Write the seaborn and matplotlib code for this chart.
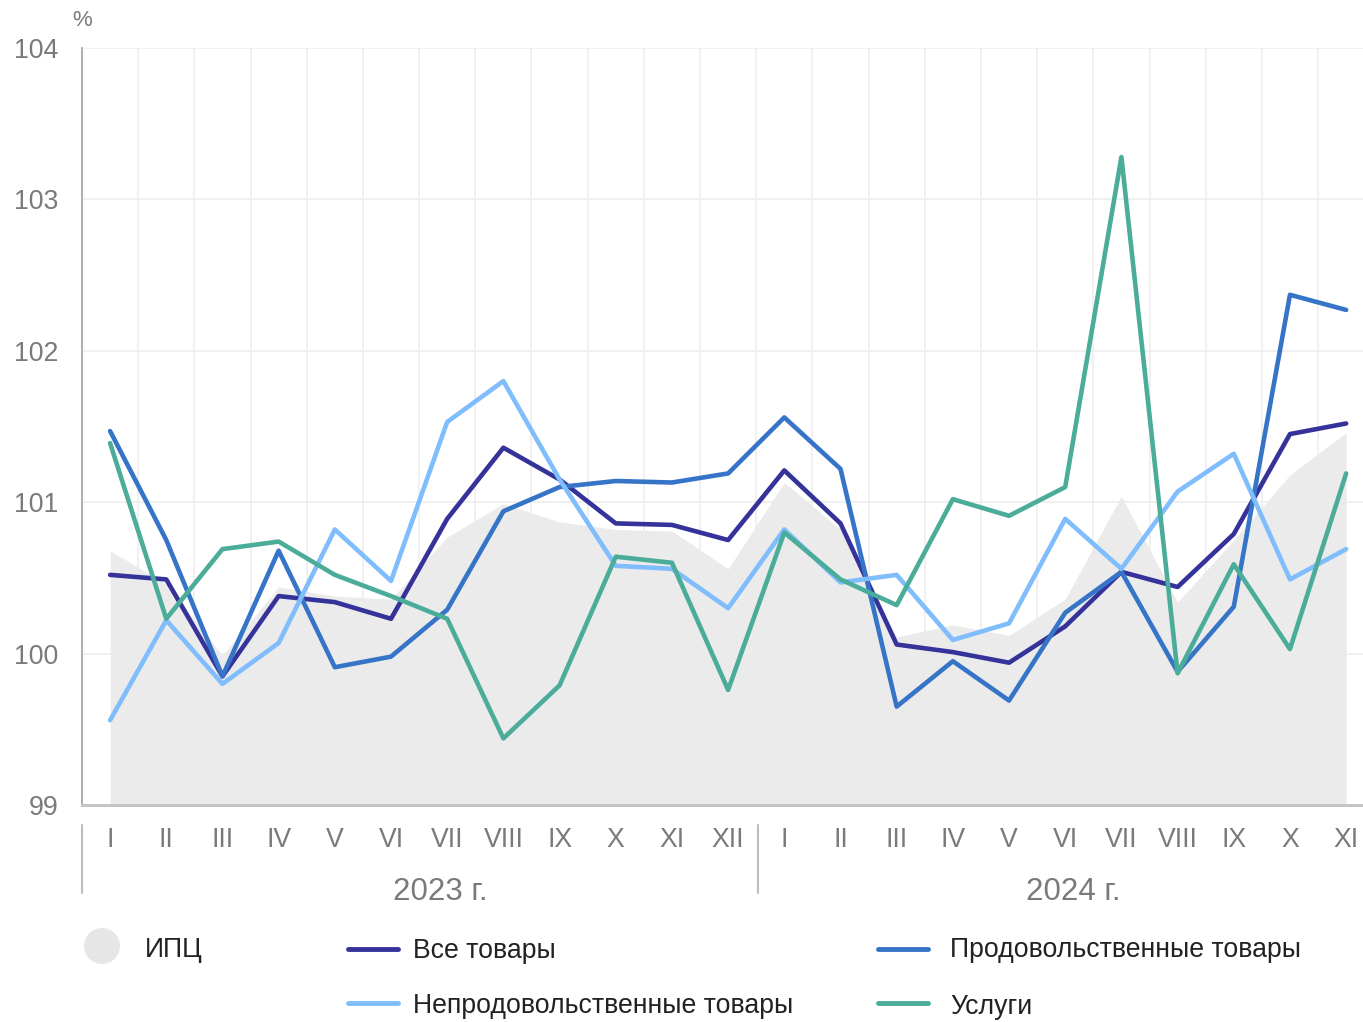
import numpy as np
import pandas as pd
import matplotlib
matplotlib.use("Agg")
import matplotlib.pyplot as plt
import matplotlib.transforms as mtransforms
from matplotlib.lines import Line2D
from matplotlib.patches import Ellipse
import seaborn as sns

# ---------------- data ----------------
months = ["I", "II", "III", "IV", "V", "VI", "VII", "VIII", "IX", "X", "XI", "XII",
          "I", "II", "III", "IV", "V", "VI", "VII", "VIII", "IX", "X", "XI"]
years = ["2023 г.", "2024 г."]

cpi = [100.68, 100.46, 99.99, 100.44, 100.38, 100.36, 100.77, 100.99, 100.87, 100.82, 100.81, 100.56,
       101.13, 100.82, 100.11, 100.19, 100.12, 100.36, 101.04, 100.34, 100.75, 101.18, 101.46]
all_goods = [100.52, 100.49, 99.85, 100.38, 100.34, 100.23, 100.89, 101.36, 101.15, 100.86, 100.85, 100.75,
             101.21, 100.86, 100.06, 100.01, 99.94, 100.18, 100.54, 100.44, 100.79, 101.45, 101.52]
food = [101.47, 100.75, 99.85, 100.68, 99.91, 99.98, 100.29, 100.94, 101.10, 101.14, 101.13, 101.19,
        101.56, 101.22, 99.65, 99.95, 99.69, 100.27, 100.54, 99.88, 100.31, 102.37, 102.27]
nonfood = [99.56, 100.22, 99.80, 100.07, 100.82, 100.48, 101.53, 101.80, 101.15, 100.58, 100.56, 100.30,
           100.82, 100.47, 100.52, 100.09, 100.20, 100.89, 100.56, 101.07, 101.32, 100.49, 100.69]
services = [101.39, 100.23, 100.69, 100.74, 100.52, 100.38, 100.23, 99.44, 99.79, 100.64, 100.60, 99.76,
            100.80, 100.49, 100.32, 101.02, 100.91, 101.10, 103.28, 99.87, 100.59, 100.03, 101.19]

series_names = ["Все товары", "Продовольственные товары", "Непродовольственные товары", "Услуги"]
cpi_name = "ИПЦ"
colors = {"Все товары": "#35339A", "Продовольственные товары": "#3674C8",
          "Непродовольственные товары": "#80BDFD", "Услуги": "#4BAD99"}
cpi_color = "#EBEBEB"

pos = np.arange(len(months))
df = pd.concat([
    pd.DataFrame({"pos": pos, "value": vals, "series": name})
    for name, vals in zip(series_names, [all_goods, food, nonfood, services])
], ignore_index=True)

# ---------------- figure ----------------
sns.set_style("white")
FONT = ["Liberation Sans", "DejaVu Sans"]
plt.rcParams["font.family"] = FONT

W, H = 1363, 1022
fig = plt.figure(figsize=(W / 100, H / 100), dpi=100)
ax = fig.add_axes([82 / W, (H - 805) / H, (W - 82) / W, (805 - 48) / H])

# CPI area
ax.fill_between(pos, 99, cpi, color=cpi_color, lw=0, zorder=1)

sns.lineplot(data=df, x="pos", y="value", hue="series", hue_order=series_names,
             palette=colors, lw=3.3, legend=False, sort=False, ax=ax, zorder=3,
             solid_capstyle="round", solid_joinstyle="round")

ax.set_yticks([99, 100, 101, 102, 103, 104])
ax.set_xticks(pos)
ax.set_xticklabels(months)
ax.set_xticks(np.arange(-0.5, 22.4, 1), minor=True)
ax.set_xlim(-0.5, 22.3)
ax.set_ylim(99, 104)
ax.set_xlabel("")
ax.set_ylabel("")

ax.grid(False)
ax.grid(True, axis="y", which="major", color="#EDEDED", lw=1.2, zorder=0)
ax.grid(True, axis="x", which="minor", color="#EDEDED", lw=1.2, zorder=0)
ax.set_axisbelow(True)

for s in ["top", "right"]:
    ax.spines[s].set_visible(False)
ax.spines["left"].set_color("#A8A8A8")
ax.spines["left"].set_linewidth(1.3)
ax.spines["bottom"].set_color("#C4C4C4")
ax.spines["bottom"].set_linewidth(2.2)

ax.tick_params(axis="y", which="both", length=0, pad=17, labelsize=19.2, labelcolor="#7A7A7A")
ax.tick_params(axis="x", which="major", length=0, pad=16, labelsize=19.2, labelcolor="#7A7A7A")
ax.tick_params(axis="x", which="minor", length=0)

# "%" unit label
fig.text(82 / W, 1 - 20 / H, "%", ha="center", va="center", fontsize=16, color="#7A7A7A")

# year separators and labels
trans = mtransforms.blended_transform_factory(ax.transData, ax.transAxes)
y0 = (805 - 825) / (805 - 48)
y1 = (805 - 893) / (805 - 48)
for xs in [-0.5, 11.54]:
    ax.plot([xs, xs], [y0, y1], transform=trans, color="#BDBDBD", lw=1.5, clip_on=False)
yl = (805 - 892) / (805 - 48)
ax.text(5.87, yl, years[0], transform=trans, ha="center", va="center", fontsize=22.5, color="#7A7A7A")
ax.text(17.14, yl, years[1], transform=trans, ha="center", va="center", fontsize=22.5, color="#7A7A7A")

# ---------------- legend (manual, figure pixels) ----------------
def fx(px):
    return px / W

def fy(py):
    return 1 - py / H

fig.add_artist(Ellipse((fx(102), fy(946)), 36 / W, 36 / H, transform=fig.transFigure,
                       facecolor="#E6E6E6", edgecolor="none"))
fig.text(fx(145), fy(950), cpi_name, ha="left", va="center", fontsize=19.2, color="#222222")

legend_items = [
    ("Все товары", 348, 413, 949, 951),
    ("Продовольственные товары", 878, 950, 949, 950),
    ("Непродовольственные товары", 348, 413, 1003, 1006),
    ("Услуги", 878, 950, 1003, 1007),
]
for name, x0, xt, yline, ytext in legend_items:
    fig.add_artist(Line2D([fx(x0), fx(x0 + 50)], [fy(yline), fy(yline)], transform=fig.transFigure,
                          color=colors[name], lw=3.5))
    fig.text(fx(xt), fy(ytext), name, ha="left", va="center", fontsize=19.2, color="#222222")

fig.savefig("out.png", dpi=100)
